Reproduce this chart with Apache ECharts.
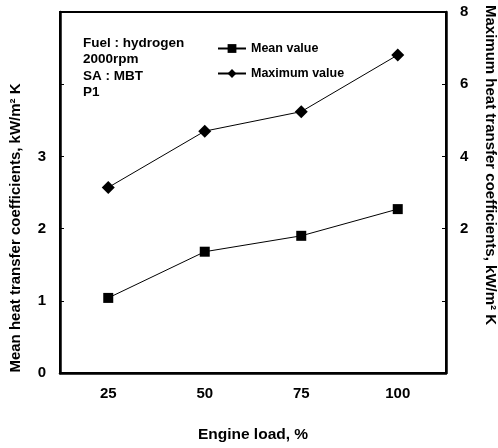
<!DOCTYPE html>
<html>
<head>
<meta charset="utf-8">
<script src="https://cdn.jsdelivr.net/npm/echarts@6/dist/echarts.min.js"></script>
<style>html,body{margin:0;padding:0;background:#fff;}#chart{width:498px;height:448px;}</style>
</head>
<body>
<div id="chart"></div>
<script>
var categories = ['25', '50', '75', '100'];
var meanValues = [1.04, 1.68, 1.90, 2.27];
var maxValues = [3.14, 4.70, 5.24, 6.81];
var leftTickLabels = ['0', '1', '2', '3'];
var rightTickLabels = ['2', '4', '6', '8'];
var annotationLines = ['Fuel : hydrogen', '2000rpm', 'SA : MBT', 'P1'];

var FONT = 'Liberation Sans, Arial, sans-serif';
var chart = echarts.init(document.getElementById('chart'));
var graphics = annotationLines.map(function (t, i) {
  return {type: 'text', left: 83, top: 36 + i * 16.5,
    style: {text: t, font: 'bold 13.5px ' + FONT, fill: '#000'}};
});
graphics.push({type: 'text', x: 16, y: 228, rotation: Math.PI / 2,
  style: {text: 'Mean heat transfer coefficients, kW/m\u00B2 K', font: 'bold 15px ' + FONT,
    fill: '#000', align: 'center', verticalAlign: 'middle'}});
graphics.push({type: 'text', x: 490, y: 165, rotation: -Math.PI / 2,
  style: {text: 'Maximum heat transfer coefficients, kW/m\u00B2 K', font: 'bold 15px ' + FONT,
    fill: '#000', align: 'center', verticalAlign: 'middle'}});

chart.setOption({
  backgroundColor: '#fff',
  animation: false,
  textStyle: {fontFamily: FONT},
  grid: {left: 60, right: 52, top: 12, bottom: 66, show: true, borderColor: '#000', borderWidth: 2, backgroundColor: 'transparent'},
  legend: {
    orient: 'vertical', left: 212, top: 37, itemWidth: 28, itemHeight: 11, itemGap: 12,
    textStyle: {fontSize: 12.5, fontWeight: 'bold', color: '#000', fontFamily: FONT},
    data: ['Mean value', 'Maximum value']
  },
  xAxis: {
    type: 'category', data: categories, boundaryGap: true,
    name: 'Engine load, %', nameLocation: 'middle', nameGap: 54,
    nameTextStyle: {fontSize: 15.5, fontWeight: 'bold', color: '#000'},
    axisLine: {lineStyle: {color: '#000', width: 2.5}},
    axisTick: {alignWithLabel: true, inside: true, length: 4, lineStyle: {color: '#000'}},
    axisLabel: {fontSize: 15, fontWeight: 'bold', color: '#000', margin: 13},
    splitLine: {show: false}
  },
  yAxis: [{
    type: 'value', min: 0, max: 5, interval: 1, position: 'left',
    axisLine: {show: true, lineStyle: {color: '#000', width: 2.5}},
    axisTick: {show: true, inside: true, length: 4, lineStyle: {color: '#000'}},
    axisLabel: {fontSize: 15, fontWeight: 'bold', color: '#000', margin: 14,
      formatter: function (v) { return leftTickLabels.indexOf(String(v)) >= 0 ? String(v) : ''; }},
    splitLine: {show: false}
  }, {
    type: 'value', min: -2, max: 8, interval: 2, position: 'right',
    axisLine: {show: true, lineStyle: {color: '#000', width: 2.5}},
    axisTick: {show: true, inside: true, length: 4, lineStyle: {color: '#000'}},
    axisLabel: {fontSize: 15, fontWeight: 'bold', color: '#000', margin: 14,
      formatter: function (v) { return rightTickLabels.indexOf(String(v)) >= 0 ? String(v) : ''; }},
    splitLine: {show: false}
  }],
  series: [{
    name: 'Mean value', type: 'line', yAxisIndex: 0, data: meanValues,
    symbol: 'rect', symbolSize: 10,
    lineStyle: {color: '#000', width: 1}, itemStyle: {color: '#000'}
  }, {
    name: 'Maximum value', type: 'line', yAxisIndex: 1, data: maxValues,
    symbol: 'diamond', symbolSize: 13,
    lineStyle: {color: '#000', width: 1}, itemStyle: {color: '#000'}
  }],
  graphic: graphics
});
</script>
</body>
</html>
